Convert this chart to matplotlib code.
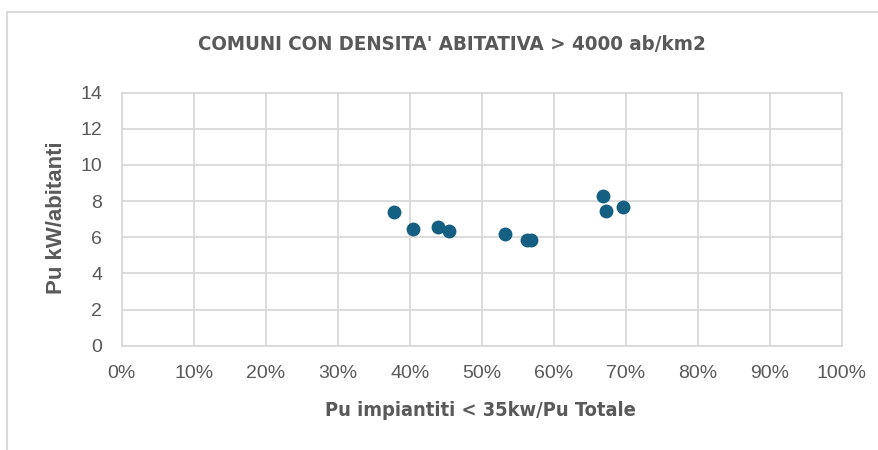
import matplotlib.pyplot as plt
from matplotlib.lines import Line2D
from matplotlib.ticker import PercentFormatter

# quota potenza impianti < 35 kW sul totale, potenza per abitante
quota_piccoli = [0.378, 0.405, 0.4395, 0.455, 0.533, 0.563, 0.569, 0.668, 0.673, 0.696]
pu_abitante = [7.41, 6.47, 6.59, 6.33, 6.18, 5.85, 5.85, 8.30, 7.47, 7.67]

titolo = "COMUNI CON DENSITA' ABITATIVA > 4000 ab/km2"
label_x = "Pu impiantiti < 35kw/Pu Totale"
label_y = "Pu kW/abitanti"

grigio = '#595959'
griglia = '#D9D9D9'

fig = plt.figure(figsize=(8.79, 4.5), dpi=100)
ax = fig.add_axes([121.7 / 879, 1 - 345.7 / 450, 720 / 879, 253 / 450])

ax.scatter(quota_piccoli, pu_abitante, s=100, color='#156082', zorder=3, linewidths=0)

ax.set_xlim(0, 1)
ax.set_ylim(0, 14)
ax.set_xticks([i / 10 for i in range(11)])
ax.set_yticks(range(0, 15, 2))
ax.xaxis.set_major_formatter(PercentFormatter(1.0, decimals=0))
ax.grid(True, color=griglia, linewidth=1.3)
ax.set_axisbelow(True)
for s in ax.spines.values():
    s.set_color(griglia)
    s.set_linewidth(1.3)
ax.tick_params(length=0, colors=grigio, labelsize=14)
ax.tick_params(axis='x', pad=14)
ax.tick_params(axis='y', pad=14)
for t in ax.get_xticklabels() + ax.get_yticklabels():
    t.set_family('Liberation Sans')

fig.text(452 / 879, 1 - 45 / 450, titolo, ha='center', va='center',
         fontsize=14.7, fontweight='bold', color=grigio, family='DejaVu Sans',
         fontstretch='condensed')
fig.text(480 / 879, 1 - 411 / 450, label_x, ha='center', va='center',
         fontsize=14.4, fontweight='bold', color=grigio, family='DejaVu Sans',
         fontstretch='condensed')
fig.text(57 / 879, 1 - 218 / 450, label_y, ha='center', va='center', rotation=90,
         fontsize=16, fontweight='bold', color=grigio, family='Liberation Sans')

# bordo del riquadro grafico
fig.add_artist(Line2D([7.5 / 879, 7.5 / 879], [0, 1 - 11.5 / 450], color=griglia, linewidth=1.5))
fig.add_artist(Line2D([7.5 / 879, 1], [1 - 11.5 / 450, 1 - 11.5 / 450], color=griglia, linewidth=1.5))

fig.savefig('out.png', dpi=100)
